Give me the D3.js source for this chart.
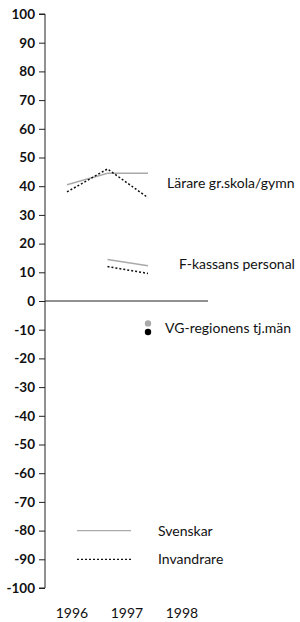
<!DOCTYPE html>
<html>
<head>
<meta charset="utf-8">
<script src="https://cdn.jsdelivr.net/npm/d3@7"></script>
<style>
  body { margin: 0; background: #fff; }
  text { font-family: Lato, "Open Sans", sans-serif; fill: #111; }
</style>
</head>
<body>
<svg width="300" height="622"></svg>
<script>
// Data
const years = [1996, 1997, 1998];
const larareSvenskar = [40.5, 44.5, 44.5];
const larareInvandrare = [38, 46, 36];
const fkassanSvenskar = [null, 14.5, 12.3];
const fkassanInvandrare = [null, 12, 9.6];
const vgSvenskar = [null, null, -7.8];
const vgInvandrare = [null, null, -10.8];
const groupLabels = ["Lärare gr.skola/gymn", "F-kassans personal", "VG-regionens tj.män"];
const groupLabelValues = [41, 13, -9.5];
const legendLabels = ["Svenskar", "Invandrare"];
const legendValues = [-80, -90];
const yTicks = d3.range(-100, 101, 10);

const svg = d3.select("svg"),
  width = +svg.attr("width"),
  height = +svg.attr("height");

const axisX = 45;

// Scales
const y = d3.scaleLinear().domain([-100, 100]).range([588, 14]);
const x = d3.scalePoint().domain(years).range([67, 148]);
// year labels sit a bit off the data points in the original
const xLabel = d3.scalePoint().domain(years).range([72, 182]);

// Y axis
const yAxis = svg.append("g")
  .attr("transform", `translate(${axisX},0)`)
  .call(d3.axisLeft(y).tickValues(yTicks).tickSize(6).tickPadding(4).tickFormat(d => String(d)));
yAxis.select(".domain").attr("stroke", "#222").attr("d", `M-6,${y(100)}H0V${y(-100)}H-6`);
yAxis.selectAll(".tick line").attr("stroke", "#222");
yAxis.selectAll(".tick text")
  .style("font-family", "Lato, sans-serif")
  .style("font-size", "13.5px")
  .style("font-weight", "bold")
  .attr("fill", "#111");

// zero line
svg.append("line")
  .attr("x1", axisX).attr("x2", 208)
  .attr("y1", y(0)).attr("y2", y(0))
  .attr("stroke", "#222").attr("stroke-width", 1);

// Year labels
svg.selectAll(".year")
  .data(years)
  .join("text")
  .attr("class", "year")
  .attr("x", d => xLabel(d))
  .attr("y", 618)
  .attr("text-anchor", "middle")
  .style("font-size", "14px")
  .text(d => d);

const line = d3.line()
  .defined(d => d.v !== null)
  .x(d => x(d.year))
  .y(d => y(d.v));

function series(vals) {
  return years.map((year, i) => ({ year, v: vals[i] }));
}

const solid = { stroke: "#aaa", dash: null };
const dotted = { stroke: "#111", dash: "2,2" };

[[larareSvenskar, solid], [larareInvandrare, dotted],
 [fkassanSvenskar, solid], [fkassanInvandrare, dotted]].forEach(([vals, st]) => {
  svg.append("path")
    .datum(series(vals))
    .attr("d", line)
    .attr("fill", "none")
    .attr("stroke", st.stroke)
    .attr("stroke-width", 1.5)
    .attr("stroke-dasharray", st.dash);
});

// VG-regionen points
[[vgSvenskar, "#aaa"], [vgInvandrare, "#000"]].forEach(([vals, col]) => {
  svg.selectAll(null)
    .data(series(vals).filter(d => d.v !== null))
    .join("circle")
    .attr("cx", d => x(d.year))
    .attr("cy", d => y(d.v))
    .attr("r", 3.2)
    .attr("fill", col);
});

// Group labels
const labelX = [167, 179, 165];
svg.selectAll(".glabel")
  .data(groupLabels)
  .join("text")
  .attr("class", "glabel")
  .attr("x", (d, i) => labelX[i])
  .attr("y", (d, i) => y(groupLabelValues[i]))
  .attr("dy", "0.35em")
  .style("font-size", "14px")
  .text(d => d);

// Legend
const legendStyles = [solid, dotted];
legendLabels.forEach((lab, i) => {
  svg.append("line")
    .attr("x1", 77).attr("x2", 131)
    .attr("y1", y(legendValues[i])).attr("y2", y(legendValues[i]))
    .attr("stroke", legendStyles[i].stroke)
    .attr("stroke-width", 1.2)
    .attr("stroke-dasharray", legendStyles[i].dash);
  svg.append("text")
    .attr("x", 158)
    .attr("y", y(legendValues[i]))
    .attr("dy", "0.35em")
    .style("font-size", "14px")
    .text(lab);
});
</script>
</body>
</html>
